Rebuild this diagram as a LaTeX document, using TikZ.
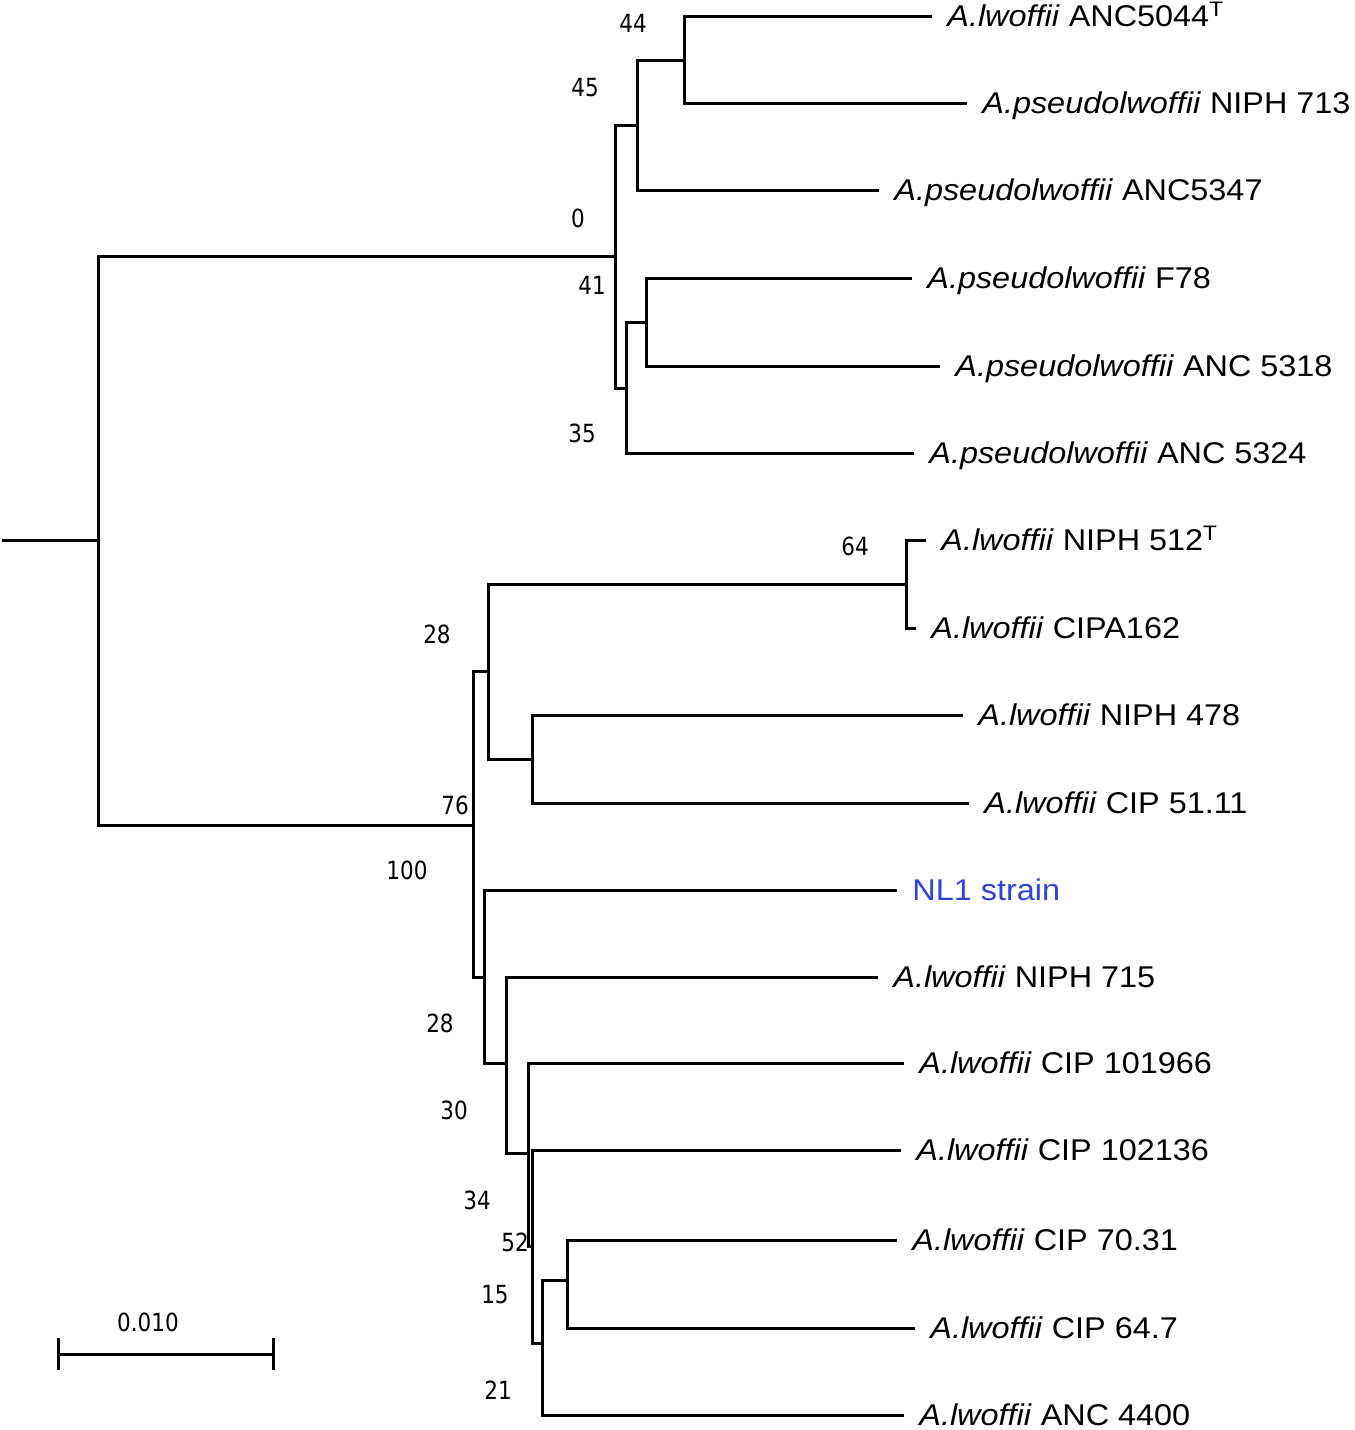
\documentclass[tikz,border=0pt]{standalone}
\usepackage{fontspec}
\newfontfamily\leaffont[FakeStretch=1.08]{Liberation Sans}
\newfontfamily\bootfont[FakeStretch=0.86]{DejaVu Sans}
\definecolor{nlblue}{RGB}{45,65,230}
\begin{document}
\begin{tikzpicture}[x=0.5pt, y=-0.5pt,
        br/.style={line width=1.5pt},
        leaf/.style={anchor=west, inner xsep=7.5pt, inner ysep=0pt, text height=10.7pt, text depth=0pt, font=\leaffont\fontsize{15}{18}\selectfont},
        boot/.style={inner sep=0pt, font=\bootfont\fontsize{12.5}{15}\selectfont}]
        \useasboundingbox (0, 0) rectangle (1355, 1430);
        \coordinate (base) at (2, 540);
        \coordinate (root) at (98, 540);
        \coordinate (nA) at (615, 256);
        \coordinate (nB) at (637, 125);
        \coordinate (nC) at (684, 60);
        \coordinate (nD) at (626, 388);
        \coordinate (nE) at (646, 322);
        \coordinate (nF) at (473, 825);
        \coordinate (nG) at (488, 671);
        \coordinate (nH) at (906, 584);
        \coordinate (nI) at (532, 759);
        \coordinate (nJ) at (484, 977);
        \coordinate (nK) at (506, 1063);
        \coordinate (nL) at (528, 1153);
        \coordinate (nM) at (532, 1246);
        \coordinate (nN) at (542, 1343);
        \coordinate (nO) at (567, 1280);
        \node[leaf] (t1) at (932, 16) {\emph{A.lwoffii} ANC5044\textsuperscript{T}};
        \node[leaf] (t2) at (967, 103) {\emph{A.pseudolwoffii} NIPH 713};
        \node[leaf] (t3) at (879, 190) {\emph{A.pseudolwoffii} ANC5347};
        \node[leaf] (t4) at (912, 278) {\emph{A.pseudolwoffii} F78};
        \node[leaf] (t5) at (940, 366) {\emph{A.pseudolwoffii} ANC 5318};
        \node[leaf] (t6) at (914, 453) {\emph{A.pseudolwoffii} ANC 5324};
        \node[leaf] (t7) at (926, 540) {\emph{A.lwoffii} NIPH 512\textsuperscript{T}};
        \node[leaf] (t8) at (916, 628) {\emph{A.lwoffii} CIPA162};
        \node[leaf] (t9) at (963, 715) {\emph{A.lwoffii} NIPH 478};
        \node[leaf] (t10) at (969, 803) {\emph{A.lwoffii} CIP 51.11};
        \node[leaf, text=nlblue] (t11) at (897, 890) {NL1 strain};
        \node[leaf] (t12) at (878, 977) {\emph{A.lwoffii} NIPH 715};
        \node[leaf] (t13) at (904, 1063) {\emph{A.lwoffii} CIP 101966};
        \node[leaf] (t14) at (901, 1150) {\emph{A.lwoffii} CIP 102136};
        \node[leaf] (t15) at (897, 1240) {\emph{A.lwoffii} CIP 70.31};
        \node[leaf] (t16) at (915, 1328) {\emph{A.lwoffii} CIP 64.7};
        \node[leaf] (t17) at (904, 1415) {\emph{A.lwoffii} ANC 4400};
        \draw[br] (base) -- (root);
        \draw[br] (root) |- (nA);
        \draw[br] (root) |- (nF);
        \draw[br] (nA) |- (nB);
        \draw[br] (nA) |- (nD);
        \draw[br] (nB) |- (nC);
        \draw[br] (nB) |- (t3.west);
        \draw[br] (nC) |- (t1.west);
        \draw[br] (nC) |- (t2.west);
        \draw[br] (nD) |- (nE);
        \draw[br] (nD) |- (t6.west);
        \draw[br] (nE) |- (t4.west);
        \draw[br] (nE) |- (t5.west);
        \draw[br] (nF) |- (nG);
        \draw[br] (nF) |- (nJ);
        \draw[br] (nG) |- (nH);
        \draw[br] (nG) |- (nI);
        \draw[br] (nH) |- (t7.west);
        \draw[br] (nH) |- (t8.west);
        \draw[br] (nI) |- (t9.west);
        \draw[br] (nI) |- (t10.west);
        \draw[br] (nJ) |- (t11.west);
        \draw[br] (nJ) |- (nK);
        \draw[br] (nK) |- (t12.west);
        \draw[br] (nK) |- (nL);
        \draw[br] (nL) |- (t13.west);
        \draw[br] (nL) |- (nM);
        \draw[br] (nM) |- (t14.west);
        \draw[br] (nM) |- (nN);
        \draw[br] (nN) |- (nO);
        \draw[br] (nN) |- (t17.west);
        \draw[br] (nO) |- (t15.west);
        \draw[br] (nO) |- (t16.west);
        \node[boot] (b44) at (633, 23) {44};
        \node[boot] (b45) at (585, 88) {45};
        \node[boot] (b0) at (578, 218) {0};
        \node[boot] (b41) at (592, 285) {41};
        \node[boot] (b35) at (582, 433) {35};
        \node[boot] (b64) at (855, 546) {64};
        \node[boot] (b28a) at (437, 634) {28};
        \node[boot] (b76) at (455, 805) {76};
        \node[boot] (b100) at (407, 870) {100};
        \node[boot] (b28b) at (440, 1023) {28};
        \node[boot] (b30) at (454, 1110) {30};
        \node[boot] (b34) at (477, 1200) {34};
        \node[boot] (b52) at (515, 1242) {52};
        \node[boot] (b15) at (495, 1295) {15};
        \node[boot] (b21) at (498, 1390) {21};
        \coordinate (sb1) at (58, 1354);
        \coordinate (sb2) at (273, 1354);
        \draw[br] (sb1) -- (sb2);
        \draw[br] (58, 1338) -- (58, 1370);
        \draw[br] (273, 1338) -- (273, 1370);
        \node[boot] (sblab) at (148, 1322) {0.010};
    \end{tikzpicture}
\end{document}
